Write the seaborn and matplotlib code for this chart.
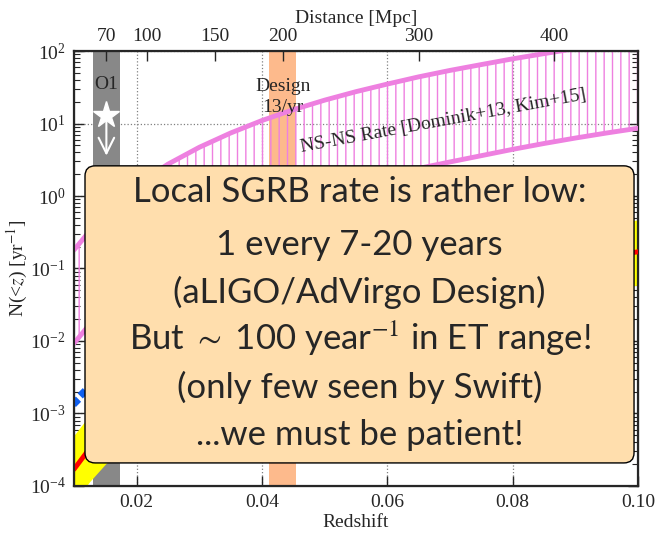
import numpy as np
import pandas as pd
import seaborn as sns
import matplotlib
matplotlib.use('Agg')
import matplotlib.pyplot as plt
from matplotlib.patches import FancyBboxPatch

# redshift grid for the rate curves
z_rate = [0.010, 0.015, 0.020, 0.025, 0.030, 0.035, 0.040, 0.045, 0.050, 0.055,
          0.060, 0.065, 0.070, 0.075, 0.080, 0.085, 0.090, 0.095, 0.100]
nsns_upper = [0.18, 0.60, 1.42, 2.75, 4.7, 7.4, 11.0, 15.5, 21.0, 27.5,
              35.0, 44.0, 54.0, 65.0, 78.0, 92.0, 108.0, 125.0, 145.0]
nsns_lower = [0.0093, 0.031, 0.073, 0.143, 0.25, 0.39, 0.58, 0.82, 1.1, 1.45,
              1.9, 2.4, 2.95, 3.6, 4.4, 5.3, 6.3, 7.4, 8.6]

# local SGRB rate (yellow band + red median)
z_sgrb = [0.010, 0.0125, 0.015, 0.020, 0.030, 0.040, 0.050, 0.060, 0.070, 0.080, 0.090, 0.100]
sgrb_mid = [1.7e-4, 3.3e-4, 5.7e-4, 1.36e-3, 4.6e-3, 1.09e-2, 2.1e-2, 3.7e-2, 5.8e-2, 8.7e-2, 0.124, 0.17]
sgrb_hi = [5.0e-4, 9.5e-4, 1.6e-3, 3.8e-3, 1.3e-2, 3.0e-2, 5.9e-2, 0.10, 0.16, 0.24, 0.34, 0.47]
sgrb_lo = [5.9e-5, 1.15e-4, 2.0e-4, 4.7e-4, 1.6e-3, 3.8e-3, 7.4e-3, 1.28e-2, 2.0e-2, 3.0e-2, 4.3e-2, 0.059]

# observed points (blue diamonds)
obs_z = [0.0103, 0.0114]
obs_n = [1.45e-3, 1.9e-3]

# O1 upper limit
o1_n = 13.0
o1_lim = 3.3

# detector ranges [Mpc]
o1_range = [60, 80]
design_range = [190, 210]
dist_ticks = [70, 100, 150, 200, 300, 400]

box_lines = ["Local SGRB rate is rather low:",
             "1 every 7-20 years",
             "(aLIGO/AdVirgo Design)",
             r"But $\sim$ 100 year$^{-1}$ in ET range!",
             "(only few seen by Swift)",
             "...we must be patient!"]


def z_of(d):
    # simple Hubble law, H0 ~ 65 km/s/Mpc
    return d * 65.0 / 3.0e5


sns.set_style('ticks')
plt.rcParams['font.family'] = ['Liberation Serif', 'DejaVu Serif']
plt.rcParams['mathtext.fontset'] = 'stix'
plt.rcParams['hatch.linewidth'] = 1.0

pink = '#EE80E0'

fig = plt.figure(figsize=(6.59, 5.33), dpi=100)
ax = fig.add_axes([0.1123, 0.0882, 0.8558, 0.8161])
ax.set_yscale('log')
ax.set_xlim(0.01, 0.10)
ax.set_ylim(1e-4, 1e2)
ax.set_axisbelow(True)
ax.grid(True, which='major', ls=':', color='gray', lw=0.9)

# detector bands
ax.axvspan(z_of(o1_range[0]), z_of(o1_range[1]), color='#888888', lw=0, zorder=1)
ax.axvspan(z_of(design_range[0]), z_of(design_range[1]), color='#FDBA8C', lw=0, zorder=1)

# NS-NS rate
df_ns = pd.DataFrame({'z': z_rate, 'lo': nsns_lower, 'hi': nsns_upper})
ax.fill_between(df_ns['z'], df_ns['lo'], df_ns['hi'], facecolor='none',
                edgecolor=pink, hatch='||', lw=0, zorder=2)
sns.lineplot(data=df_ns, x='z', y='hi', color=pink, lw=3.5, ax=ax, zorder=3)
sns.lineplot(data=df_ns, x='z', y='lo', color=pink, lw=3.5, ax=ax, zorder=3)

# SGRB rate
df_sg = pd.DataFrame({'z': z_sgrb, 'lo': sgrb_lo, 'mid': sgrb_mid, 'hi': sgrb_hi})
ax.fill_between(df_sg['z'], df_sg['lo'], df_sg['hi'], color='yellow', lw=0, zorder=2)
sns.lineplot(data=df_sg, x='z', y='mid', color='red', lw=3.5, ax=ax, zorder=3)
sns.scatterplot(x=obs_z, y=obs_n, marker='D', color='#1060F0', s=28, ec='none', ax=ax, zorder=4)

# O1 star + arrow
zo1 = z_of(np.mean(o1_range))
ax.annotate('', xy=(zo1, o1_lim), xytext=(zo1, o1_n),
            arrowprops=dict(arrowstyle='->', color='white', lw=1.5, mutation_scale=28), zorder=5)
ax.plot([zo1], [o1_n], marker='*', color='white', ms=20, mec='white', zorder=6)
ax.text(zo1, 34, 'O1', ha='center', va='center', fontsize=14, zorder=6)
ax.text(z_of(np.mean(design_range)), 23, 'Design\n13/yr', ha='center', va='center',
        fontsize=14, linespacing=1.3, zorder=6)
ax.text(0.0690, 10.8, 'NS-NS Rate [Dominik+13, Kim+15]', ha='center', va='center',
        rotation=10.5, fontsize=14, zorder=6)

# message box
box = FancyBboxPatch((0.0195, 0.053), 0.9735, 0.683,
                     boxstyle='round,pad=0,rounding_size=0.018', mutation_aspect=564 / 435,
                     transform=ax.transAxes, fc='navajowhite', ec='black', lw=1.0, zorder=10)
ax.add_patch(box)
for txt, yb in zip(box_lines, [0.653, 0.531, 0.421, 0.313, 0.202, 0.094]):
    ax.text(0.5063, yb, txt, transform=ax.transAxes, ha='center', va='baseline',
            fontsize=25, family=['Lato', 'DejaVu Sans'], zorder=11)

# axes cosmetics
ax.set_xticks([0.02, 0.04, 0.06, 0.08, 0.10])
ax.set_xticklabels(['0.02', '0.04', '0.06', '0.08', '0.10'])
ax.tick_params(which='both', direction='in', top=False, right=True, labelsize=14, pad=6)
ax.tick_params(which='major', length=7, width=1)
ax.tick_params(which='minor', length=4, width=0.8)
ax.set_xlabel('Redshift', fontsize=14, labelpad=2)
ax.set_ylabel(r'N(<$z$) [yr$^{-1}$]', fontsize=14, labelpad=0)
for s in ax.spines.values():
    s.set_linewidth(1.6)

ax2 = ax.twiny()
ax2.set_xlim(ax.get_xlim())
ax2.set_xticks([z_of(d) for d in dist_ticks])
ax2.set_xticklabels([str(d) for d in dist_ticks])
ax2.tick_params(direction='in', length=7, width=1, labelsize=14, pad=4)
ax2.set_xlabel('Distance [Mpc]', fontsize=14, labelpad=4)

fig.savefig('out.png', dpi=100)
